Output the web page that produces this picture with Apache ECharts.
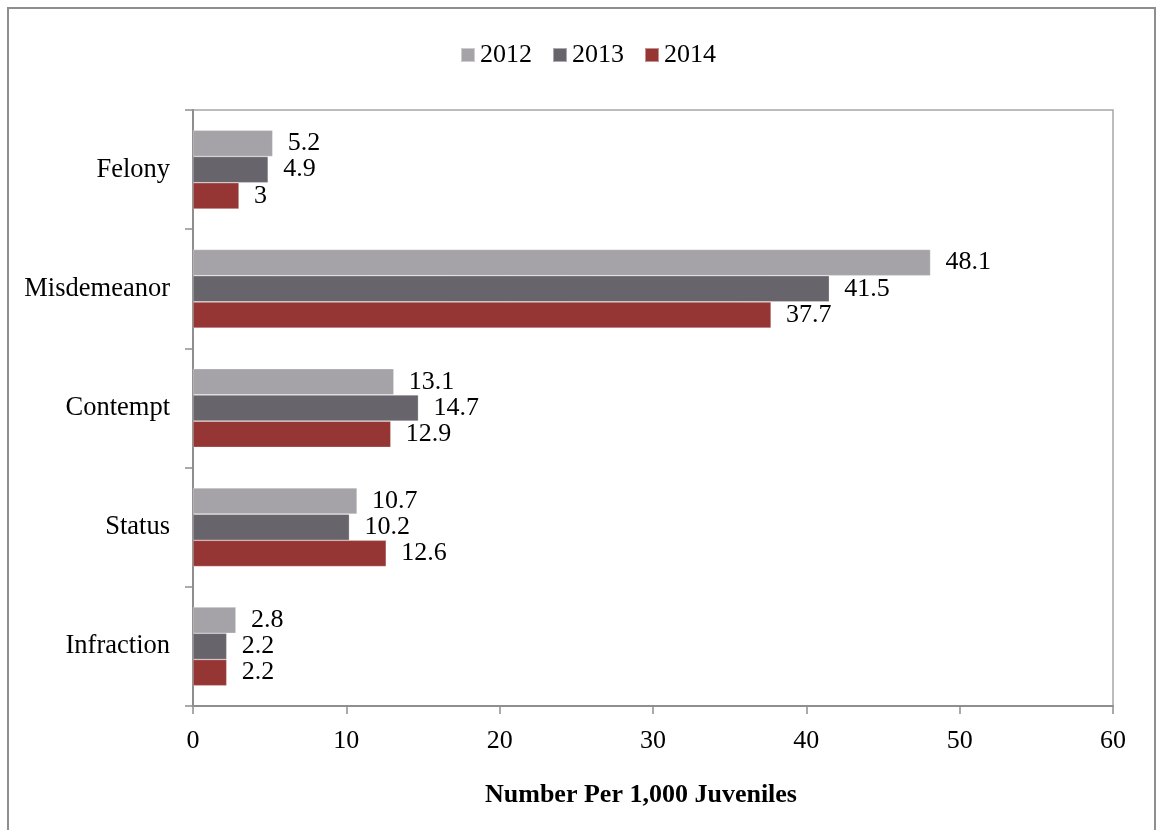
<!DOCTYPE html>
<html>
<head>
<meta charset="utf-8">
<script src="https://cdn.jsdelivr.net/npm/echarts@6/dist/echarts.min.js"></script>
<style>
  html, body { margin: 0; padding: 0; background: #ffffff; }
  #chart { width: 1157px; height: 830px; }
</style>
</head>
<body>
<div id="chart"></div>
<script>
// Offense categories, top to bottom
const categories = ['Felony', 'Misdemeanor', 'Contempt', 'Status', 'Infraction'];
const years = ['2012', '2013', '2014'];
// Number per 1,000 juveniles
const values2012 = [5.2, 48.1, 13.1, 10.7, 2.8];
const values2013 = [4.9, 41.5, 14.7, 10.2, 2.2];
const values2014 = [3, 37.7, 12.9, 12.6, 2.2];
const xTicks = { min: 0, max: 60, interval: 10 };
const axisTitle = 'Number Per 1,000 Juveniles';

const colors = ['#a5a3a8', '#68646b', '#963634'];
const serif = '"Liberation Serif", "Times New Roman", serif';
const seriesValues = [values2012, values2013, values2014];

const chart = echarts.init(document.getElementById('chart'));

chart.setOption({
  animation: false,
  textStyle: { fontFamily: serif },
  graphic: [{
    type: 'rect',
    shape: { x: 8, y: 8, width: 1147, height: 840 },
    style: { fill: 'none', stroke: '#8e8e8e', lineWidth: 2 },
    silent: true
  }],
  legend: {
    data: years,
    top: 37,
    left: 455,
    itemWidth: 14,
    itemHeight: 14,
    itemGap: 20,
    icon: 'rect',
    textStyle: { fontFamily: serif, fontSize: 26, color: '#000', padding: [0, 0, 0, 0] }
  },
  grid: {
    left: 193,
    right: 44,
    top: 110,
    bottom: 124,
    show: true,
    borderColor: '#a6a6a6',
    borderWidth: 1.5
  },
  xAxis: {
    type: 'value',
    min: xTicks.min,
    max: xTicks.max,
    interval: xTicks.interval,
    name: axisTitle,
    nameLocation: 'middle',
    nameGap: 76,
    nameTextStyle: { fontFamily: serif, fontSize: 26, fontWeight: 'bold', color: '#000', padding: [0, 24, 0, 0] },
    axisLine: { show: true, lineStyle: { color: '#8e8e8e', width: 2 } },
    axisTick: { show: true, length: 8, lineStyle: { color: '#8e8e8e', width: 1.5 } },
    axisLabel: { fontFamily: serif, fontSize: 26, color: '#000', margin: 22 },
    splitLine: { show: false }
  },
  yAxis: {
    type: 'category',
    data: categories,
    inverse: true,
    axisLine: { show: true, lineStyle: { color: '#8e8e8e', width: 2 } },
    axisTick: { show: true, length: 8, lineStyle: { color: '#8e8e8e', width: 1.5 } },
    axisLabel: { fontFamily: serif, fontSize: 26.5, color: '#000', margin: 23 }
  },
  series: years.map((y, i) => ({
    name: y,
    type: 'bar',
    data: seriesValues[i],
    barGap: '0%',
    barCategoryGap: '34%',
    itemStyle: { color: colors[i], borderColor: 'rgba(255,255,255,0.45)', borderWidth: 0.6 },
    label: {
      show: true,
      position: 'right',
      distance: 15,
      fontFamily: serif,
      fontSize: 26,
      color: '#000'
    }
  }))
});
</script>
</body>
</html>
